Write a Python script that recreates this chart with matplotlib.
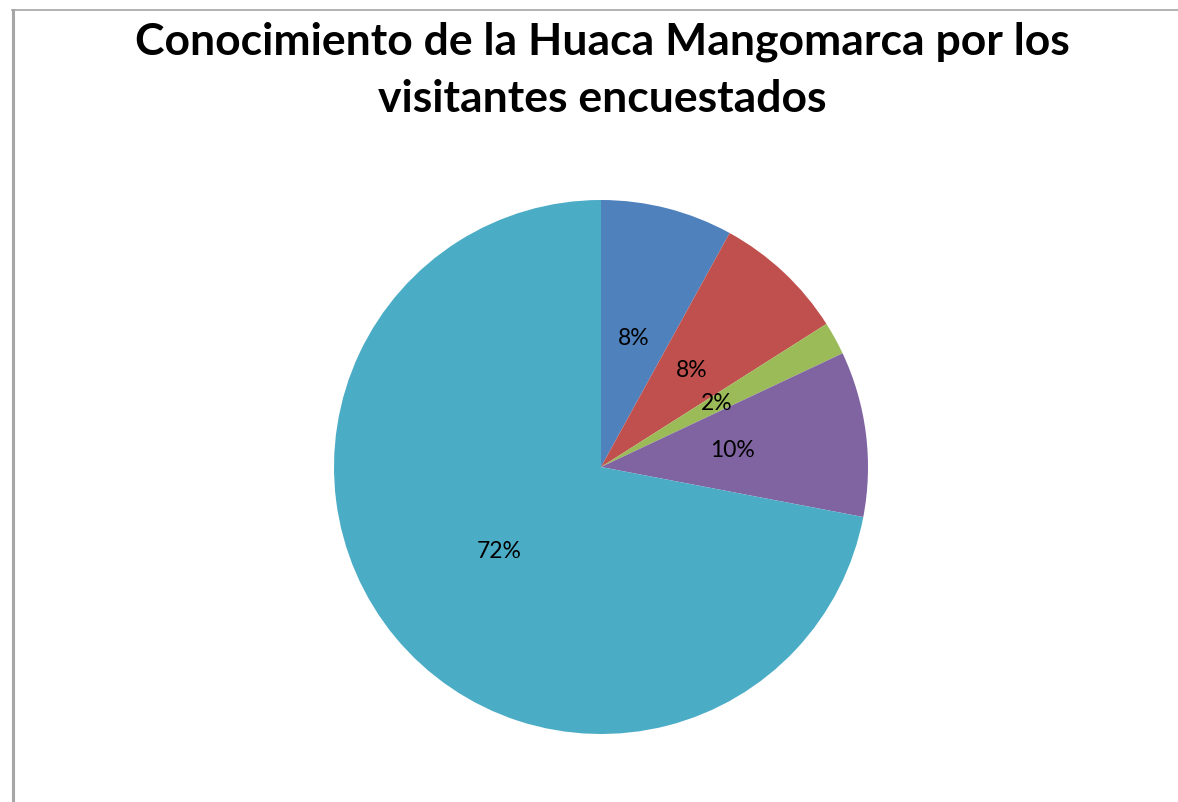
import matplotlib
matplotlib.use('Agg')
import matplotlib.pyplot as plt
from matplotlib.lines import Line2D

# data
categories = ['A', 'B', 'C', 'D', 'E']
values = [8, 8, 2, 10, 72]
colors = ['#4F81BD', '#C0504D', '#9BBB59', '#8064A2', '#4BACC6']
title = 'Conocimiento de la Huaca Mangomarca por los\nvisitantes encuestados'

W, H = 1178, 802
fig = plt.figure(figsize=(W / 100, H / 100), dpi=100)
fig.patch.set_facecolor('white')

# chart area border (only left and top visible in the crop)
fig.add_artist(Line2D([13 / W, 13 / W], [0, 1 - 10 / H], transform=fig.transFigure,
                      color='#A6A6A6', lw=2.2))
fig.add_artist(Line2D([12 / W, 1], [1 - 10 / H, 1 - 10 / H], transform=fig.transFigure,
                      color='#A6A6A6', lw=1.2))

cx, cy, r = 601, 467, 267
ax = fig.add_axes([(cx - r) / W, 1 - (cy + r) / H, 2 * r / W, 2 * r / H])
wedges, texts, autotexts = ax.pie(values, colors=colors, startangle=90, counterclock=False,
                                  autopct='%.0f%%', pctdistance=0.495, radius=1,
                                  wedgeprops=dict(linewidth=0),
                                  textprops=dict(fontsize=16.5, family='Lato', color='black'))
ax.set_xlim(-1, 1)
ax.set_ylim(-1, 1)
ax.set_aspect('auto')
ax.axis('off')

fig.text(602 / W, 1 - 21 / H, title, ha='center', va='top', fontsize=32,
         fontweight='bold', family='Lato', linespacing=1.52)

fig.savefig('out.png', dpi=100, facecolor='white')
